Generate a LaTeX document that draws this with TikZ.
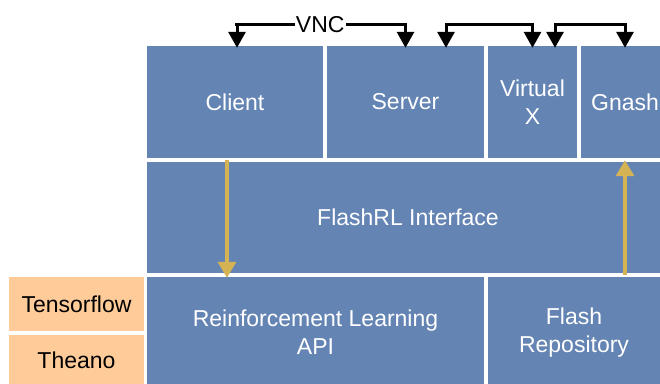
\documentclass[tikz,border=0pt]{standalone}
\usepackage{fontspec}
\setmainfont{Liberation Sans}
\usetikzlibrary{arrows.meta,calc}
\definecolor{bluebox}{HTML}{6484B4}
\definecolor{goldarr}{HTML}{D4B354}
\definecolor{orangebox}{HTML}{FFCC99}
\tikzset{
  blk/.style={fill=bluebox, text=white, inner sep=0pt, align=center,
    font=\fontsize{23}{28}\selectfont},
  obox/.style={fill=orangebox, text=black, inner sep=0pt, align=center,
    font=\fontsize{23}{28}\selectfont},
  vnc/.style={draw=black, line width=3pt, {Triangle[width=17pt,length=16pt]}-{Triangle[width=17pt,length=16pt]}},
  gold/.style={draw=goldarr, line width=3.5pt, -{Triangle[width=18pt,length=16pt]}}
}
\begin{document}
\begin{tikzpicture}[x=1pt,y=1pt]
\clip (0,0) rectangle (660,383);
\fill[white] (0,0) rectangle (660,383);
% top row
\node[blk, minimum width=176pt, minimum height=112pt] (client) at (235,281) {Client};
\node[blk, minimum width=157pt, minimum height=112pt] (server) at (405.5,281) {Server};
\node[blk, minimum width=89pt, minimum height=112pt] (virtx) at (532.5,281) {Virtual\\X};
\node[blk, minimum width=88pt, minimum height=112pt] (gnash) at (625,281) {Gnash};
% middle
\node[blk, minimum width=522pt, minimum height=111pt] (flashrl) at (408,165.5) {FlashRL Interface};
% bottom
\node[blk, minimum width=337pt, minimum height=111pt] (rlapi) at (315.5,50.5) {Reinforcement Learning\\API};
\node[blk, minimum width=172pt, minimum height=111pt] (frepo) at (574,50.5) {Flash\\Repository};
\node[obox, minimum width=135pt, minimum height=54pt] (tf) at (76.5,79) {Tensorflow};
\node[obox, minimum width=135pt, minimum height=50pt] (theano) at (76.5,23) {Theano};
% VNC arrows
\draw[vnc] ([xshift=2pt,yshift=-2pt]client.north) |- ($(client.north)+(0,21)$) -- node[fill=white, inner sep=1pt, font=\fontsize{23}{28}\selectfont]{VNC} ($(server.north)+(0,21)$) -- ([yshift=-2pt]server.north);
\draw[vnc] ([xshift=40.5pt,yshift=-2pt]server.north) |- ($(virtx.north)+(0,21)$) -- ([yshift=-2pt]virtx.north);
\draw[vnc] ([xshift=22.5pt,yshift=-2pt]virtx.north) |- ($(gnash.north)+(0,21)$) -- ([yshift=-2pt]gnash.north);
% gold arrows
\draw[gold] ([xshift=-8pt,yshift=-2pt]client.south) -- ([xshift=-8pt,yshift=-1pt]client.south |- rlapi.north);
\draw[gold] ([yshift=2pt]gnash.south |- frepo.north) -- ([yshift=-2pt]gnash.south);
\end{tikzpicture}
\end{document}
